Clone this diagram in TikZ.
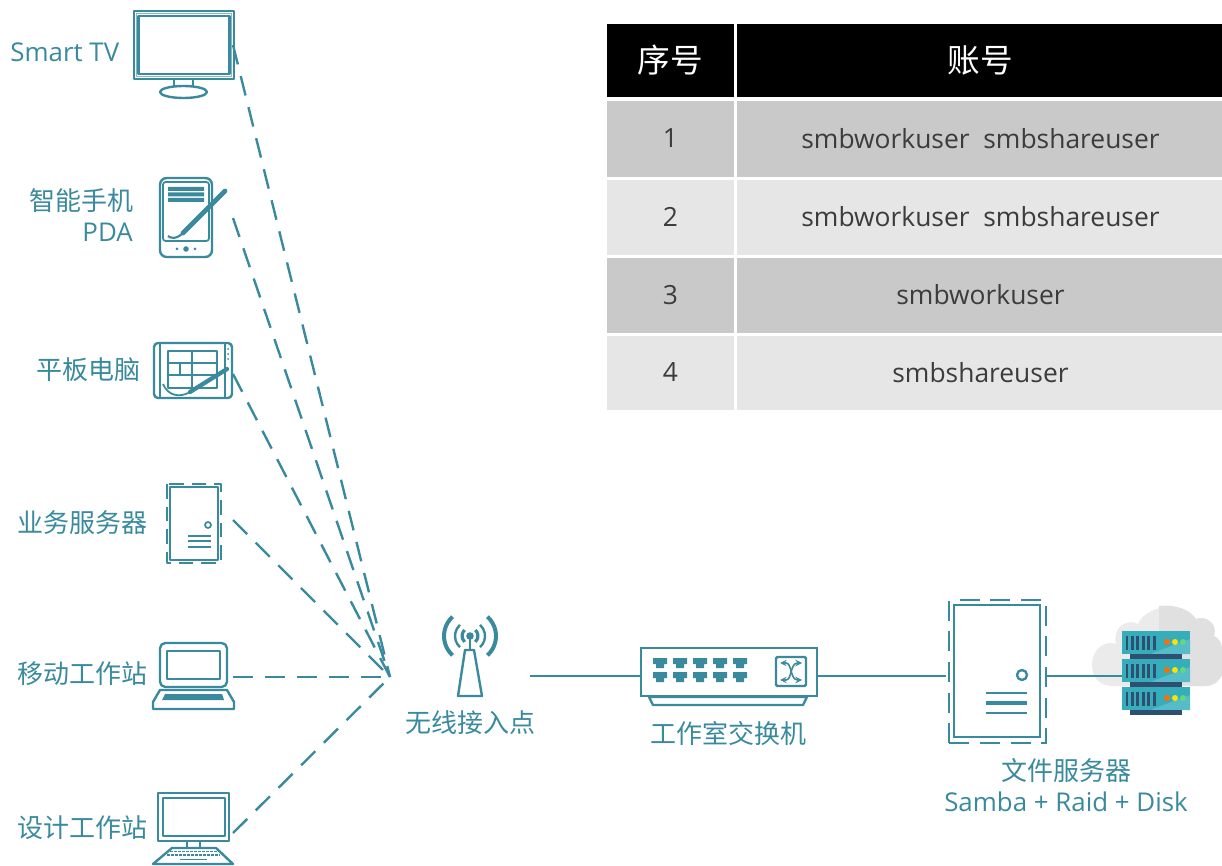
\documentclass[tikz,border=0pt]{standalone}
\usepackage{fontspec}
\setmainfont{Open Sans}
\newfontfamily\cjk{Noto Sans CJK SC}
\usetikzlibrary{calc,shapes.geometric}
\definecolor{teal}{HTML}{3A8A9E}
\definecolor{rowa}{HTML}{C9C9C9}
\definecolor{rowb}{HTML}{E6E6E6}
\definecolor{txt}{HTML}{3C3C3C}
\definecolor{srv}{HTML}{35ADBB}
\definecolor{srvl}{HTML}{55BCC8}
\definecolor{srvd}{HTML}{2E4F72}
\tikzset{
 ln/.style={draw=teal,line width=1.8pt,line join=round},
 thin ln/.style={draw=teal,line width=1.3pt,line join=round},
 link/.style={draw=teal,line width=1.9pt},
 dash link/.style={draw=teal,line width=1.8pt,dash pattern=on 15pt off 9pt},
 lab/.style={text=teal,font=\cjk\fontsize{19.5}{22}\selectfont,inner sep=0pt},
 latin/.style={text=teal,font=\fontsize{19.4}{22}\selectfont,inner sep=0pt},
 hd/.style={fill=black,text=white,font=\cjk\fontsize{24.5}{26}\selectfont,inner sep=0pt,anchor=center},
 cell/.style={text=txt,font=\fontsize{19.8}{24}\selectfont,inner sep=0pt,anchor=center},
}
\newcommand{\rackunit}[1]{%
 \fill[srv] (1121.5,#1) rectangle (1190,#1+23);
 \fill[srvl] (1150,#1+23) -- (1190,#1+8) -- (1190,#1+23) -- cycle;
 \fill[srvd] (1130,#1+23) rectangle (1182,#1+28);
 \foreach \sx in {1125.5,1131,1136.4,1141.8,1147.2,1152.6} \fill[srvd] (\sx,#1+4.5) rectangle (\sx+2.9,#1+18.5);
 \fill[orange!85!red] (1167,#1+11) circle (3);
 \fill[yellow!85!orange] (1175,#1+11) circle (3);
 \fill[green!55!teal!70!white] (1183,#1+11) circle (3);
}
\newcommand{\port}[2]{%
 \fill[teal] (#1-7,#2-5) rectangle (#1+7,#2+1) (#1-4,#2+1) rectangle (#1+4,#2+5);
}
\begin{document}
\begin{tikzpicture}[x=0.75pt,y=-0.75pt]
\useasboundingbox (0,0) rectangle (1222,866);
% table
\node[hd,minimum width=95.25pt,minimum height=54.75pt] (h1) at (670.5,60.5) {\raisebox{-1pt}{序号}};
\node[hd,minimum width=364pt,minimum height=54.75pt] (h2) at (979.5,60.5) {\hspace{1.5pt}\raisebox{-1pt}{账号}};
\foreach \nm/\ya/\yb/\col/\n/\t in {1/101/177/rowa/1/{smbworkuser\ \ smbshareuser},2/180/255/rowb/2/{smbworkuser\ \ smbshareuser},3/258/333/rowa/3/smbworkuser,4/336/410/rowb/4/smbshareuser}{
 \fill[\col] (607,\ya) rectangle (734,\yb);
 \fill[\col] (737,\ya) rectangle (1222,\yb);
 \node[cell] (n\nm) at (670.5,{(\ya+\yb)/2-0.5}) {\n};
 \node[cell] (t\nm) at (980.5,{(\ya+\yb)/2-0.5}) {\t};
}
% labels
\node[latin,anchor=east] (lTV) at (119.5,52) {Smart TV};
\node[lab,anchor=east] (lPh) at (133.5,201) {智能手机};
\node[latin,anchor=east] (lPDA) at (133,232) {PDA};
\node[lab,anchor=east] (lTab) at (140.5,369.5) {平板电脑};
\node[lab,anchor=east] (lBiz) at (147.5,523) {业务服务器};
\node[lab,anchor=east] (lMob) at (147.5,674) {移动工作站};
\node[lab,anchor=east] (lDes) at (147.5,828) {设计工作站};
\node[lab] (lAP) at (470,723) {无线接入点};
\node[lab] (lSw) at (728,734) {工作室交换机};
\node[lab] (lFS) at (1066,771) {文件服务器};
\node[latin] (lSam) at (1066,802) {Samba + Raid + Disk};
% connector ends
\coordinate (hub) at (390,677);
\coordinate (pTV) at (233,45);
\coordinate (pPh) at (233,218);
\coordinate (pTab) at (233,374);
\coordinate (pBiz) at (233,520);
\coordinate (pMob) at (233,677);
\coordinate (pDes) at (233,833);
\coordinate (pAP) at (530,676);
\foreach \p in {pTV,pPh,pTab,pBiz,pMob,pDes} \draw[dash link] (\p) -- (hub);
% TV
\draw[ln] (134,11) rectangle (234,79);
\draw[thin ln,draw=teal!60] (136.5,13.5) rectangle (231.5,76.5);
\draw[ln] (138.5,16) rectangle (229.5,74);
\draw[thin ln] (174,79) -- (174,87) (193,79) -- (193,87);
\draw[ln] (183.5,92) ellipse (23.5 and 6);
% PDA
\draw[ln,rounded corners=5] (160,178) rectangle (212,257);
\draw[thin ln,rounded corners=2] (163,182) rectangle (209,241);
\fill[teal] (168,187) rectangle (204,191) (168,192.5) rectangle (204,196.5) (168,198) rectangle (204,202);
\draw[teal,line width=3.6pt,line cap=round] (225,191) -- (183,233);
\draw[teal,line width=1.6pt] (183,233) .. controls (176,240) and (170,238) .. (168,236);
\fill[teal] (186,249) circle (2.8) (177,249) circle (1.5) (195,249) circle (1.5);
% Tablet
\draw[ln,rounded corners=3] (154,343) rectangle (232,398);
\draw[thin ln] (160,343) -- (160,398) (225,343) -- (225,398);
\draw[thin ln] (168,351) rectangle (217,388);
\draw[thin ln] (168,363) -- (217,363) (168,375) -- (217,375) (192,351) -- (192,388) (180,363) -- (180,375);
\draw[teal,line width=3.2pt,line cap=round] (227,369) -- (190,392);
\draw[thin ln] (190,392) .. controls (180,398) and (168,396) .. (163,384);
\fill[teal] (228,349) circle (1) (228,354) circle (1) (228,359) circle (1);
% business server
\draw[ln] (170,487) rectangle (218,560);
\draw[ln,dash pattern=on 11pt off 6pt] (167,484) rectangle (221,563);
\draw[thin ln] (208,525) circle (3);
\draw[thin ln] (188,536) -- (211,536) (188,541) -- (211,541) (188,547) -- (211,547);
% laptop
\draw[ln,rounded corners=4] (160,687) -- (160,643) -- (227,643) -- (227,687) -- cycle;
\draw[thin ln] (167,651) rectangle (220,679);
\draw[ln] (160,690) -- (227,690) -- (234,702) -- (234,709) -- (153,709) -- (153,702) -- cycle;
\fill[teal] (165,694) -- (222,694) -- (224,700) -- (162,700) -- cycle;
% desktop
\draw[ln] (158,793) rectangle (229,841);
\draw[ln] (163,798) rectangle (225,836);
\draw[thin ln] (187,841) -- (187,848) (200,841) -- (200,848);
\draw[ln] (172,848) -- (216,848) -- (233,864) -- (153,864) -- cycle;
\draw[teal,line width=1pt,dash pattern=on 2pt off 1pt] (170,851.5) -- (217,851.5) (167,855) -- (220,855);
\draw[teal,line width=1.2pt] (180,859.5) -- (207,859.5);
% access point
\fill[teal] (470,636) circle (3.8);
\draw[thin ln] (470,636) -- (470,650);
\draw[ln] (465,650) -- (474,650) -- (482,696) -- (458,696) -- cycle;
\foreach \r/\w in {8/2.4,15/1.8,26/3}{
 \draw[teal,line width=\w pt] ($(470,636)+(132:\r)$) arc[start angle=132,end angle=228,radius=\r];
 \draw[teal,line width=\w pt] ($(470,636)+(48:\r)$) arc[start angle=48,end angle=-48,radius=\r];
}
% switch
\node[draw=teal,line width=1.8pt,minimum width=132pt,minimum height=36pt,inner sep=0pt,anchor=north west] (sw) at (640,647) {};
\draw[ln] (649,697) -- (807,697) -- (803,705) -- (653,705) -- cycle;
\foreach \x in {660,680,700,720,740}{\port{\x}{663}\port{\x}{677}}
\draw[ln,rounded corners=1] (776,657) rectangle (806,686);
\draw[teal,line width=1.2pt,>=stealth,<->] (780,663) -- (786,663) .. controls (792,663) and (790,680) .. (802,680);
\draw[teal,line width=1.2pt,>=stealth,<->] (780,680) -- (786,680) .. controls (792,680) and (790,663) .. (802,663);
\draw[link] (pAP) -- (pAP -| sw.west);
% file server
\node[draw=teal,line width=1.8pt,minimum width=64.5pt,minimum height=99pt,inner sep=0pt,anchor=north west] (fs) at (953,604) {};
\node[draw=teal,line width=1.8pt,dash pattern=on 15pt off 8pt,minimum width=72.75pt,minimum height=107.25pt,inner sep=0pt,anchor=north west] (fsd) at (948,599) {};
\coordinate (fsin) at (946,676);
\draw[link] (sw.east |- fsin) -- (fsin);
\draw[ln] (1022,675) circle (5);
\draw[thin ln] (986,693) -- (1027,693) (986,713) -- (1027,713);
\draw[ln,line width=2.6pt] (986,703) -- (1027,703);
% cloud
\fill[gray!16] (1092,665) .. controls (1092,648) and (1106,640) .. (1116,644)
 .. controls (1112,628) and (1126,618) .. (1138,624)
 .. controls (1144,608) and (1180,597) .. (1196,619)
 .. controls (1206,615) and (1218,624) .. (1214,636)
 .. controls (1218,638) and (1222,642) .. (1222,650) -- (1222,675)
 .. controls (1218,683) and (1212,686) .. (1205,686) -- (1112,686)
 .. controls (1100,686) and (1092,678) .. (1092,665) -- cycle;
\fill[gray!24] (1159,606) .. controls (1176,604) and (1190,610) .. (1196,619)
 .. controls (1206,615) and (1218,624) .. (1214,636)
 .. controls (1218,638) and (1222,642) .. (1222,650) -- (1222,675)
 .. controls (1218,683) and (1212,686) .. (1205,686) -- (1159,686) -- cycle;
\rackunit{631}\rackunit{659}\rackunit{687}
\coordinate (rack) at (1122,676);
\coordinate (fsport) at (1047,676);
\draw[link] (fsport) -- (rack);
\end{tikzpicture}
\end{document}
